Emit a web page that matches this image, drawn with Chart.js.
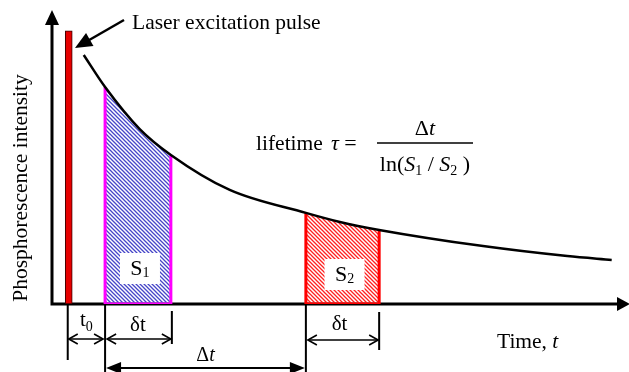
<!DOCTYPE html>
<html>
<head>
<meta charset="utf-8">
<script src="https://cdn.jsdelivr.net/npm/chart.js@4.4.1/dist/chart.umd.min.js"></script>
<style>
  html, body { margin: 0; padding: 0; background: #fff; }
  #wrap { width: 629px; height: 372px; }
</style>
</head>
<body>
<div id="wrap"><canvas id="decay" width="629" height="372"></canvas></div>
<script>
// decay curve (time / intensity in arbitrary units, 0-100)
const curveTime = [5.5, 9.2, 15.2, 20.6, 30.8, 44.0, 49.9, 56.7, 74.7, 89.3, 97.0];
const curveIntensity = [84.7, 73.8, 59.5, 50.7, 38.8, 31.0, 27.9, 25.2, 19.7, 16.3, 15.0];

// laser pulse (t0) and the two gate windows
const pulseTime = 2.9;
const pulseIntensity = 92.9;
const gate1 = [9.2, 20.6];
const gate2 = [44.0, 56.7];

const serif = '"Liberation Serif", "Times New Roman", serif';

const curveAt = t => curveIntensity[curveTime.indexOf(t)];
const curvePoints = curveTime.map((t, i) => ({ x: t, y: curveIntensity[i] }));
const gatePoints = g => curvePoints.filter(p => p.x >= g[0] && p.x <= g[1]);
const gateOutline = g => [
  { x: g[0], y: curveAt(g[0]) }, { x: g[0], y: 0 },
  { x: g[1], y: 0 }, { x: g[1], y: curveAt(g[1]) }
];

// diagonal hatching like the original figure
function hatch(color) {
  const c = document.createElement('canvas');
  c.width = c.height = 4;
  const g = c.getContext('2d');
  g.strokeStyle = color;
  g.lineWidth = 1.3;
  g.beginPath();
  g.moveTo(-1, -1); g.lineTo(5, 5);
  g.moveTo(3, -1); g.lineTo(5, 1);
  g.moveTo(-1, 3); g.lineTo(1, 5);
  g.stroke();
  return g.createPattern(c, 'repeat');
}

// text made of pieces (italic letters, subscripts)
function pieces(ctx, parts, x, y, align) {
  let w = 0;
  parts.forEach(p => { ctx.font = p.f; w += ctx.measureText(p.t).width; });
  let cx = align === 'center' ? x - w / 2 : x;
  ctx.textAlign = 'left';
  ctx.textBaseline = 'alphabetic';
  parts.forEach(p => {
    ctx.font = p.f;
    ctx.fillText(p.t, cx, y + (p.dy || 0));
    cx += ctx.measureText(p.t).width;
  });
}

const F = (s, it) => (it ? 'italic ' : '') + s + 'px ' + serif;

function filledHead(ctx, tx, ty, ang, len, half) {
  ctx.save();
  ctx.translate(tx, ty);
  ctx.rotate(ang);
  ctx.beginPath();
  ctx.moveTo(0, 0);
  ctx.lineTo(-len, -half);
  ctx.lineTo(-len, half);
  ctx.closePath();
  ctx.fill();
  ctx.restore();
}

function openHead(ctx, tx, ty, dir) {
  ctx.beginPath();
  ctx.moveTo(tx - dir * 9, ty - 5);
  ctx.lineTo(tx, ty);
  ctx.lineTo(tx - dir * 9, ty + 5);
  ctx.stroke();
}

const sketchPlugin = {
  id: 'sketch',
  beforeDatasetsDraw(chart) {
    const ctx = chart.ctx;
    const { left, right, top, bottom } = chart.chartArea;
    ctx.save();
    ctx.strokeStyle = '#000';
    ctx.fillStyle = '#000';
    ctx.lineWidth = 3;
    ctx.beginPath();
    ctx.moveTo(left, bottom + 1.5);
    ctx.lineTo(left, top + 12);
    ctx.moveTo(left - 1.5, bottom);
    ctx.lineTo(right - 10, bottom);
    ctx.stroke();
    filledHead(ctx, left, top, -Math.PI / 2, 15, 7);
    filledHead(ctx, right + 1, bottom, 0, 13, 7);
    ctx.restore();
  },
  afterDatasetsDraw(chart) {
    const ctx = chart.ctx;
    const xs = chart.scales.x;
    const { right, bottom } = chart.chartArea;
    const px = t => xs.getPixelForValue(t);
    ctx.save();
    ctx.fillStyle = '#000';
    ctx.strokeStyle = '#000';

    // label boxes S1 / S2
    [[gate1, '1', 268], [gate2, '2', 274]].forEach(([g, n, cy]) => {
      const cx = (px(g[0]) + px(g[1])) / 2 + 2;
      ctx.fillStyle = '#fff';
      ctx.fillRect(cx - 20, cy - 15, 40, 31);
      ctx.fillStyle = '#000';
      pieces(ctx, [{ t: 'S', f: F(22) }, { t: n, f: F(14), dy: 2 }], cx, cy + 7, 'center');
    });

    // laser pulse note
    ctx.font = F(21.5);
    ctx.textAlign = 'left';
    ctx.fillText('Laser excitation pulse', 132, 29);
    ctx.lineWidth = 2.5;
    ctx.beginPath();
    ctx.moveTo(124, 20);
    ctx.lineTo(84, 43);
    ctx.stroke();
    filledHead(ctx, 75, 48, Math.atan2(28, -49), 17, 7.5);

    // y-axis title
    ctx.save();
    ctx.translate(27, 188);
    ctx.rotate(-Math.PI / 2);
    ctx.font = F(21.5);
    ctx.textAlign = 'center';
    ctx.fillText('Phosphorescence intensity', 0, 0);
    ctx.restore();

    // x-axis title
    pieces(ctx, [{ t: 'Time, ', f: F(21.5) }, { t: 't', f: F(21.5, true) }], right - 132, bottom + 44);

    // lifetime formula
    pieces(ctx, [{ t: 'lifetime', f: F(21.5) }], 256, 150);
    pieces(ctx, [{ t: '\u03C4', f: F(22, true) }, { t: ' =', f: F(22) }], 331, 150);
    ctx.lineWidth = 1.5;
    ctx.beginPath();
    ctx.moveTo(377, 143);
    ctx.lineTo(473, 143);
    ctx.stroke();
    pieces(ctx, [{ t: '\u0394', f: F(22) }, { t: 't', f: F(22, true) }], 425, 135, 'center');
    pieces(ctx, [
      { t: 'ln(', f: F(22) }, { t: 'S', f: F(22, true) }, { t: '1', f: F(14), dy: 4 },
      { t: ' / ', f: F(22) }, { t: 'S', f: F(22, true) }, { t: '2', f: F(14), dy: 4 },
      { t: ' )', f: F(22) }
    ], 425, 171, 'center');

    // extension lines
    const p0 = px(pulseTime) - 1, a1 = px(gate1[0]), b1 = px(gate1[1]);
    const a2 = px(gate2[0]), b2 = px(gate2[1]);
    ctx.lineWidth = 2;
    ctx.beginPath();
    ctx.moveTo(p0, bottom); ctx.lineTo(p0, bottom + 56);
    ctx.moveTo(a1, bottom); ctx.lineTo(a1, bottom + 70);
    ctx.moveTo(b1 + 1, bottom + 7); ctx.lineTo(b1 + 1, bottom + 40);
    ctx.moveTo(a2, bottom); ctx.lineTo(a2, bottom + 70);
    ctx.moveTo(b2, bottom + 8); ctx.lineTo(b2, bottom + 46);
    ctx.stroke();

    // dimension arrows
    ctx.lineWidth = 1.6;
    [[p0 + 1, a1 - 2, bottom + 35], [a1 + 2, b1, bottom + 35], [a2 + 2, b2 - 1, bottom + 36]].forEach(([x1, x2, y]) => {
      ctx.beginPath();
      ctx.moveTo(x1, y); ctx.lineTo(x2, y);
      ctx.stroke();
      openHead(ctx, x1, y, -1);
      openHead(ctx, x2, y, 1);
    });
    ctx.lineWidth = 2;
    ctx.beginPath();
    ctx.moveTo(a1 + 8, bottom + 64); ctx.lineTo(a2 - 8, bottom + 64);
    ctx.stroke();
    filledHead(ctx, a1 + 1, bottom + 64, Math.PI, 15, 6);
    filledHead(ctx, a2 - 1, bottom + 64, 0, 15, 6);

    // dimension labels
    pieces(ctx, [{ t: 't', f: F(21) }, { t: '0', f: F(14), dy: 5 }], (p0 + a1) / 2, bottom + 22, 'center');
    pieces(ctx, [{ t: '\u03B4t', f: F(21) }], (a1 + b1) / 2, bottom + 27, 'center');
    pieces(ctx, [{ t: '\u03B4t', f: F(21) }], (a2 + b2) / 2 - 3, bottom + 26, 'center');
    pieces(ctx, [{ t: '\u0394', f: F(20) }, { t: 't', f: F(20, true) }], (a1 + a2) / 2, bottom + 57, 'center');
    ctx.restore();
  }
};

new Chart(document.getElementById('decay'), {
  type: 'line',
  data: {
    datasets: [
      {
        label: 'decay',
        data: curvePoints,
        borderColor: '#000',
        borderWidth: 2.5,
        pointRadius: 0,
        cubicInterpolationMode: 'monotone',
        fill: false,
        order: 0
      },
      {
        type: 'bar',
        label: 'laser pulse',
        data: [{ x: pulseTime, y: pulseIntensity }],
        backgroundColor: '#e60000',
        borderColor: '#3a0000',
        borderWidth: 1,
        borderSkipped: false,
        barThickness: 7,
        order: 1
      },
      {
        label: 'S1 edge',
        data: gateOutline(gate1),
        borderColor: '#ff00ff',
        borderWidth: 3,
        pointRadius: 0,
        tension: 0,
        fill: false,
        order: 1
      },
      {
        label: 'S2 edge',
        data: gateOutline(gate2),
        borderColor: '#ff0000',
        borderWidth: 3,
        pointRadius: 0,
        tension: 0,
        fill: false,
        order: 1
      },
      {
        label: 'S1',
        data: gatePoints(gate1),
        borderWidth: 0,
        pointRadius: 0,
        cubicInterpolationMode: 'monotone',
        backgroundColor: hatch('#4646c8'),
        fill: 'origin',
        order: 3
      },
      {
        label: 'S2',
        data: gatePoints(gate2),
        borderWidth: 0,
        pointRadius: 0,
        cubicInterpolationMode: 'monotone',
        backgroundColor: hatch('#ff2020'),
        fill: 'origin',
        order: 3
      }
    ]
  },
  options: {
    responsive: false,
    animation: false,
    layout: { padding: { left: 52, right: 0, top: 10, bottom: 68 } },
    plugins: { legend: { display: false }, tooltip: { enabled: false } },
    scales: {
      x: { type: 'linear', min: 0, max: 100, offset: false, display: false },
      y: { min: 0, max: 100, display: false }
    }
  },
  plugins: [sketchPlugin]
});
</script>
</body>
</html>
